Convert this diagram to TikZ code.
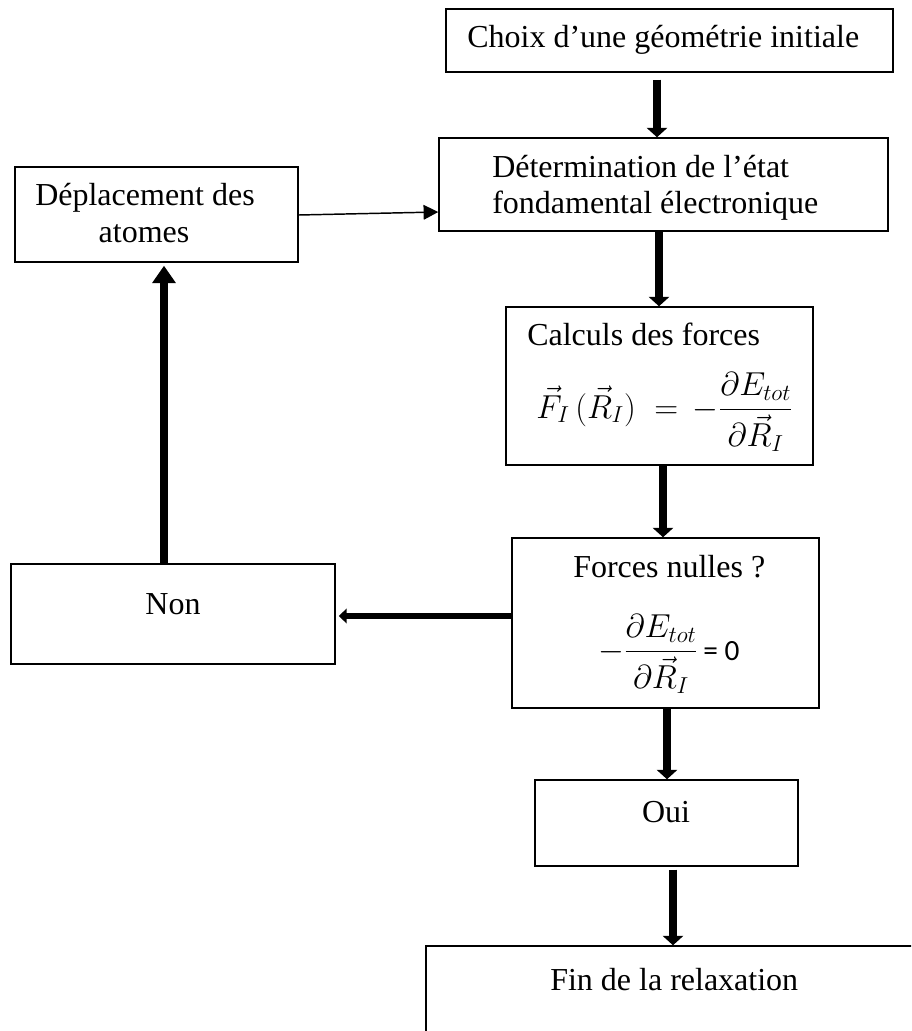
\documentclass[tikz,border=0pt]{standalone}
\usepackage{amsmath}
\usepackage{fontspec}
\setmainfont{Liberation Serif}
\newfontfamily\calibrifont{Carlito}
\usetikzlibrary{arrows.meta,calc,fit}
\begin{document}
\begin{tikzpicture}[x=0.75pt,y=-0.75pt,
  box/.style={draw, line width=1.1pt, rectangle, inner sep=0pt},
  txt/.style={inner sep=0pt, anchor=base west, font=\fontsize{24}{27}\selectfont},
  ctxt/.style={inner sep=0pt, anchor=base, font=\fontsize{24}{27}\selectfont},
  mtxt/.style={inner sep=0pt, anchor=base west, font=\fontsize{24}{27}\selectfont},
  downarrow/.style={line width=6pt, -{Triangle[width=15pt,length=7pt]}},
  uparrow/.style={line width=6pt, -{Triangle[width=17pt,length=13pt]}},
  leftarrow/.style={line width=5pt, -{Triangle[width=11pt,length=6pt]}},
  thinarrow/.style={line width=1.1pt, -{Triangle[width=11pt,length=11pt]}}
]
\useasboundingbox (0,0) rectangle (911,1031);
\clip (0,0) rectangle (911,1031);

% boxes
\node[box, fit={(446,9) (893,72)}] (choix) {};
\node[box, fit={(439,138) (888,231)}] (det) {};
\node[box, fit={(15,167) (298,262)}] (depl) {};
\node[box, fit={(506,307) (813,465)}] (calc) {};
\node[box, fit={(512,538) (819,708)}] (forces) {};
\node[box, fit={(11,564) (335,664)}] (non) {};
\node[box, fit={(535,780) (798,866)}] (oui) {};
\node[box, fit={(426,946) (960,1100)}] (fin) {};

% texts
\node[txt] (tchoix) at (467,48) {Choix d’une géométrie initiale};
\node[txt] (tdet1) at (492,177) {Détermination de l’état};
\node[txt] (tdet2) at (492,213) {fondamental électronique};
\node[ctxt] (tdepl1) at (145,205) {Déplacement des};
\node[ctxt] (tdepl2) at (144,242) {atomes};
\node[txt] (tcalc) at (527,345) {Calculs des forces};
\node[mtxt] (fcalc) at (536,418) {$\vec{F}_{I}\,(\vec{R}_{I}) \;=\, -\dfrac{\partial E_{tot}}{\partial \vec{R}_{I}}$};
\node[ctxt] (tnon) at (173,614) {Non};
\node[txt] (tforces) at (573,577) {Forces nulles ?};
\node[mtxt] (fforces) at (598,660) {$-\dfrac{\partial E_{tot}}{\partial \vec{R}_{I}}$\,{\calibrifont\fontsize{22}{26}\selectfont = 0}};
\node[ctxt] (toui) at (666,822) {Oui};
\node[txt] (tfin) at (550,990) {Fin de la relaxation};

% connectors
\draw[downarrow] ($(choix.south)+(-12.5,7)$) -- ($(det.north)+(-6.5,0)$);
\draw[downarrow] ($(det.south)+(-4.5,0)$) -- ($(calc.north)+(-0.5,0)$);
\draw[downarrow] ($(calc.south)+(3.5,0)$) -- ($(forces.north)+(-2.5,0)$);
\draw[downarrow] ($(forces.south)+(1.5,0)$) -- ($(oui.north)+(0.5,0)$);
\draw[downarrow] ($(oui.south)+(6.5,3)$) -- ($(fin.north)+(-20,0)$);
\draw[leftarrow] ($(forces.west)+(0,-7)$) -- ($(non.east)+(3,2)$);
\draw[uparrow] ($(non.north)+(-9,0)$) -- ($(depl.south)+(7.5,3)$);
\draw[thinarrow] ($(depl.east)+(0,0.5)$) -- ($(det.west)+(0,27.5)$);
\end{tikzpicture}
\end{document}
